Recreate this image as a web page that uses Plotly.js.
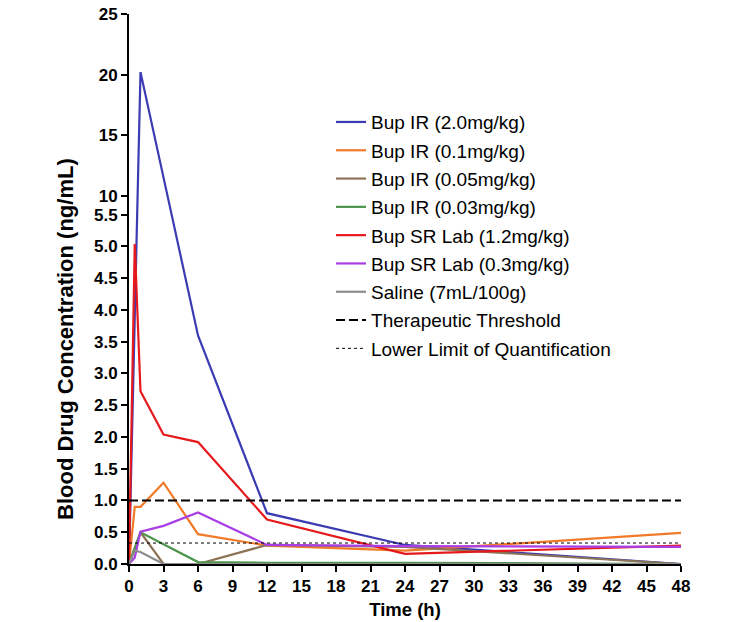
<!DOCTYPE html>
<html>
<head>
<meta charset="utf-8">
<script src="https://cdn.plot.ly/plotly-3.0.1.min.js"></script>
<style>html,body{margin:0;padding:0;background:#fff;}#chart{width:749px;height:622px;}</style>
</head>
<body>
<div id="chart"></div>
<script>
// Sampling times (h)
const timeH = [0, 0.5, 1, 3, 6, 12, 24, 48];

// Blood drug concentration (ng/mL); null = no sample shown
const bupIR20  = [0, null, 20.2, null, 3.6, 0.80, 0.30, 0.0];
const bupIR01  = [0, 0.90, 0.90, 1.28, 0.47, 0.29, 0.21, 0.49];
const bupIR005 = [0, null, 0.50, 0.0, 0.0, 0.30, 0.27, 0.0];
const bupIR003 = [0, null, 0.50, 0.31, 0.03, 0.02, 0.02, 0.0];
const bupSR12  = [0, 5.04, 2.72, 2.04, 1.92, 0.70, 0.16, 0.29];
const bupSR03  = [0, 0.10, 0.51, 0.60, 0.81, 0.30, 0.28, 0.27];
const saline   = [0, 0.21, 0.19, 0.0, 0.0, 0.0, 0.0, 0.0];

const therapeuticThreshold = 1.0;
const lowerLimitQuant = 0.33;

const seriesNames = ["Bup IR (2.0mg/kg)", "Bup IR (0.1mg/kg)", "Bup IR (0.05mg/kg)",
  "Bup IR (0.03mg/kg)", "Bup SR Lab (1.2mg/kg)", "Bup SR Lab (0.3mg/kg)", "Saline (7mL/100g)"];
const seriesColors = ["#3b3bb3", "#f07a28", "#8c7356", "#4c944c", "#e6191c", "#a93ee6", "#8c8c8c"];

const xTicks = [0,3,6,9,12,15,18,21,24,27,30,33,36,39,42,45,48];
const yTicksLow = [0,0.5,1,1.5,2,2.5,3,3.5,4,4.5,5,5.5];
const yTicksHigh = [10,15,20,25];

// Broken y axis: 0-5.5 lower segment, 10-25 upper segment (compressed)
const LOW_TOP = 5.5, HIGH_BASE = 10, HIGH_START = 5.80, HIGH_SCALE = 0.1907;
const Y_MAX = HIGH_START + (25 - HIGH_BASE) * HIGH_SCALE;
function brk(v) {
  if (v === null || v === undefined) return null;
  return v <= LOW_TOP ? v : HIGH_START + (v - HIGH_BASE) * HIGH_SCALE;
}

const series = [bupIR20, bupIR01, bupIR005, bupIR003, bupSR12, bupSR03, saline];
const traces = series.map((vals, i) => ({
  type: "scatter", mode: "lines",
  x: timeH, y: vals.map(brk),
  customdata: vals,
  connectgaps: true,
  name: seriesNames[i],
  legendgroup: "g" + i,
  line: {color: seriesColors[i], width: 2.2}
}));

traces.push({
  type: "scatter", mode: "lines",
  x: [timeH[0], timeH[timeH.length-1]],
  y: [therapeuticThreshold, therapeuticThreshold].map(brk),
  name: "Therapeutic Threshold",
  legendgroup: "thr",
  line: {color: "#000", width: 2, dash: "9px,4px"}
});
traces.push({
  type: "scatter", mode: "lines",
  x: [timeH[0], timeH[timeH.length-1]],
  y: [lowerLimitQuant, lowerLimitQuant].map(brk),
  name: "Lower Limit of Quantification",
  legendgroup: "lloq",
  line: {color: "#000", width: 1, dash: "dot"}
});

const yTickVals = yTicksLow.concat(yTicksHigh).map(brk);
const yTickText = yTicksLow.map(v => v.toFixed(1)).concat(yTicksHigh.map(String));

const FONT = "Liberation Sans, Arial, sans-serif";
const tickFont = {family: FONT, size: 17, color: "#000", weight: "bold"};
const titleFont = {family: FONT, size: 18.5, color: "#000", weight: "bold"};

const layout = {
  width: 749, height: 622,
  margin: {l: 129, r: 68, t: 14, b: 58},
  paper_bgcolor: "#fff", plot_bgcolor: "#fff",
  showlegend: true,
  legend: {
    x: 0.366, y: 0.838, xanchor: "left", yanchor: "top",
    font: {family: FONT, size: 19, color: "#000"},
    tracegroupgap: 0.6, traceorder: "grouped",
    bgcolor: "rgba(0,0,0,0)", borderwidth: 0
  },
  xaxis: {
    range: [0, 48], tickvals: xTicks, ticktext: xTicks.map(String),
    ticks: "outside", ticklen: 6, tickwidth: 2, tickcolor: "#000",
    showline: true, linewidth: 2, linecolor: "#000",
    showgrid: false, zeroline: false, layer: "above traces",
    tickfont: tickFont,
    title: {text: "Time (h)", font: titleFont, standoff: 8}
  },
  yaxis: {
    range: [0, Y_MAX], tickvals: yTickVals, ticktext: yTickText,
    ticks: "outside", ticklen: 6, tickwidth: 2, tickcolor: "#000",
    showline: true, linewidth: 2, linecolor: "#000",
    showgrid: false, zeroline: false, layer: "above traces",
    tickfont: tickFont
  },
  annotations: [{
    text: "Blood Drug Concentration (ng/mL)",
    xref: "paper", yref: "paper",
    x: (66 - 129) / 552, y: (564 - 339) / 550,
    xanchor: "center", yanchor: "middle",
    textangle: -90, showarrow: false,
    font: {family: FONT, size: 22, color: "#000", weight: "bold"}
  }]
};

Plotly.newPlot("chart", traces, layout, {displayModeBar: false, staticPlot: true});
</script>
</body>
</html>
